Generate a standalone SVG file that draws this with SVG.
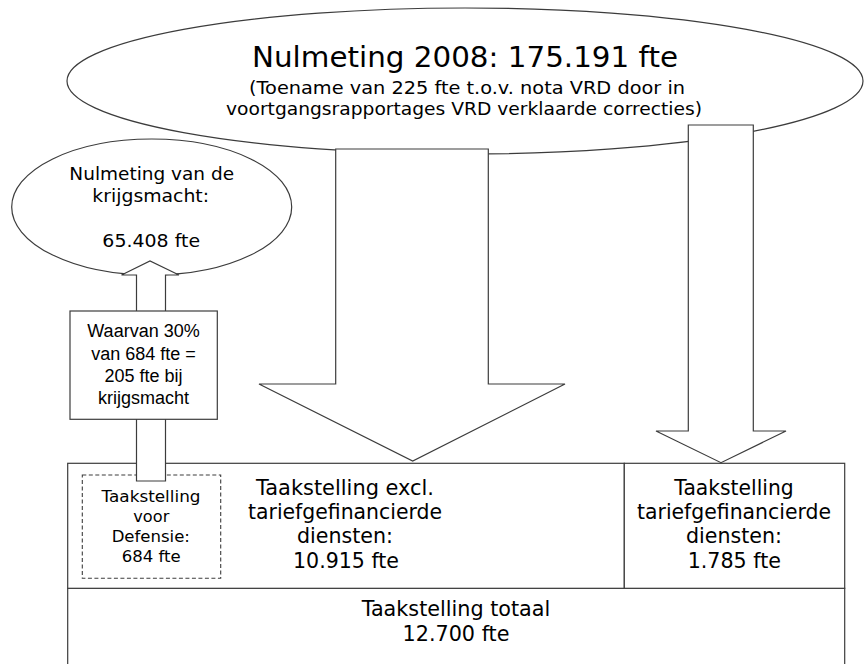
<svg xmlns="http://www.w3.org/2000/svg" width="864" height="664" viewBox="0 0 864 664">
<defs>
<style>
.shape{fill:#fff;stroke:#3c3c3c;stroke-width:1.2}
.dash{fill:none;stroke:#3c3c3c;stroke-width:1.1;stroke-dasharray:4 2.5}
.v{font-family:"DejaVu Sans",Verdana,sans-serif;fill:#000;text-anchor:middle}
.a{font-family:"Liberation Sans",Arial,sans-serif;fill:#000;text-anchor:middle;font-size:18px}
</style>
</defs>
<rect width="864" height="664" fill="#fff"/>
<g id="nulmeting-2008">
<ellipse class="shape" cx="465" cy="81" rx="398" ry="73"/>
</g>
<g id="nulmeting-krijgsmacht">
<ellipse class="shape" cx="151.7" cy="207" rx="140" ry="68"/>
</g>
<g id="taakstelling-totaal">
<rect class="shape" x="67.7" y="588.3" width="777" height="90"/>
<text class="v" x="456" y="615.7" font-size="20.4px" textLength="188.6" lengthAdjust="spacingAndGlyphs">Taakstelling totaal</text>
<text class="v" x="456" y="641" font-size="20.4px" textLength="107" lengthAdjust="spacingAndGlyphs">12.700 fte</text>
</g>
<g id="taakstelling-excl">
<rect class="shape" x="67.7" y="463.3" width="556.6" height="125"/>
<text class="v" x="345" y="495" font-size="20.4px" textLength="178" lengthAdjust="spacingAndGlyphs">Taakstelling excl.</text>
<text class="v" x="345" y="519" font-size="20.4px" textLength="194" lengthAdjust="spacingAndGlyphs">tariefgefinancierde</text>
<text class="v" x="345" y="543" font-size="20.4px" textLength="96" lengthAdjust="spacingAndGlyphs">diensten:</text>
<text class="v" x="346" y="568" font-size="20.4px" textLength="106" lengthAdjust="spacingAndGlyphs">10.915 fte</text>
</g>
<g id="taakstelling-tarief">
<rect class="shape" x="624.3" y="463.3" width="220.4" height="125"/>
<text class="v" x="734" y="495" font-size="20.4px" textLength="119.3" lengthAdjust="spacingAndGlyphs">Taakstelling</text>
<text class="v" x="734" y="519" font-size="20.4px" textLength="194" lengthAdjust="spacingAndGlyphs">tariefgefinancierde</text>
<text class="v" x="734" y="543" font-size="20.4px" textLength="96" lengthAdjust="spacingAndGlyphs">diensten:</text>
<text class="v" x="734.3" y="568" font-size="20.4px" textLength="93.3" lengthAdjust="spacingAndGlyphs">1.785 fte</text>
</g>
<g id="taakstelling-defensie">
<rect class="dash" x="82.3" y="475" width="138.4" height="103.3"/>
<text class="v" x="151" y="502.3" font-size="16.5px" textLength="99" lengthAdjust="spacingAndGlyphs">Taakstelling</text>
<text class="v" x="151.3" y="521.7" font-size="16.5px" textLength="36" lengthAdjust="spacingAndGlyphs">voor</text>
<text class="v" x="150.8" y="541.7" font-size="16.5px" textLength="78.3" lengthAdjust="spacingAndGlyphs">Defensie:</text>
<text class="v" x="151.2" y="561.7" font-size="16.5px" textLength="59" lengthAdjust="spacingAndGlyphs">684 fte</text>
</g>
<g id="connectors">
<polygon class="shape" points="136.5,481 136.5,275 121.5,275 150,261 179,275 165.5,275 165.5,481"/>
<polygon class="shape" points="335.7,149 488.3,149 488.3,384 565,384 412.7,461 259,384 335.7,384"/>
<polygon class="shape" points="688.3,125 753.3,125 753.3,431 786,431 721,462.7 656,431 688.3,431"/>
</g>
<g id="waarvan-box">
<rect class="shape" x="70" y="311" width="147.3" height="108.3"/>
<text class="a" x="143.5" y="336.7">Waarvan 30%</text>
<text class="a" x="143.5" y="360">van 684 fte =</text>
<text class="a" x="143.5" y="382.3">205 fte bij</text>
<text class="a" x="143.5" y="404.3">krijgsmacht</text>
</g>
<g id="nulmeting-2008-text">
<text class="v" x="465" y="67" font-size="28px" textLength="426" lengthAdjust="spacingAndGlyphs">Nulmeting 2008: 175.191 fte</text>
<text class="v" x="467" y="94" font-size="17.5px" textLength="436" lengthAdjust="spacingAndGlyphs">(Toename van 225 fte t.o.v. nota VRD door in</text>
<text class="v" x="464" y="115" font-size="17.5px" textLength="476" lengthAdjust="spacingAndGlyphs">voortgangsrapportages VRD verklaarde correcties)</text>
</g>
<g id="nulmeting-krijgsmacht-text">
<text class="v" x="151.7" y="180" font-size="18.5px" textLength="164.7" lengthAdjust="spacingAndGlyphs">Nulmeting van de</text>
<text class="v" x="150.7" y="201.5" font-size="18.5px" textLength="116.7" lengthAdjust="spacingAndGlyphs">krijgsmacht:</text>
<text class="v" x="151.2" y="246.7" font-size="18.5px" textLength="97.7" lengthAdjust="spacingAndGlyphs">65.408 fte</text>
</g>
</svg>
